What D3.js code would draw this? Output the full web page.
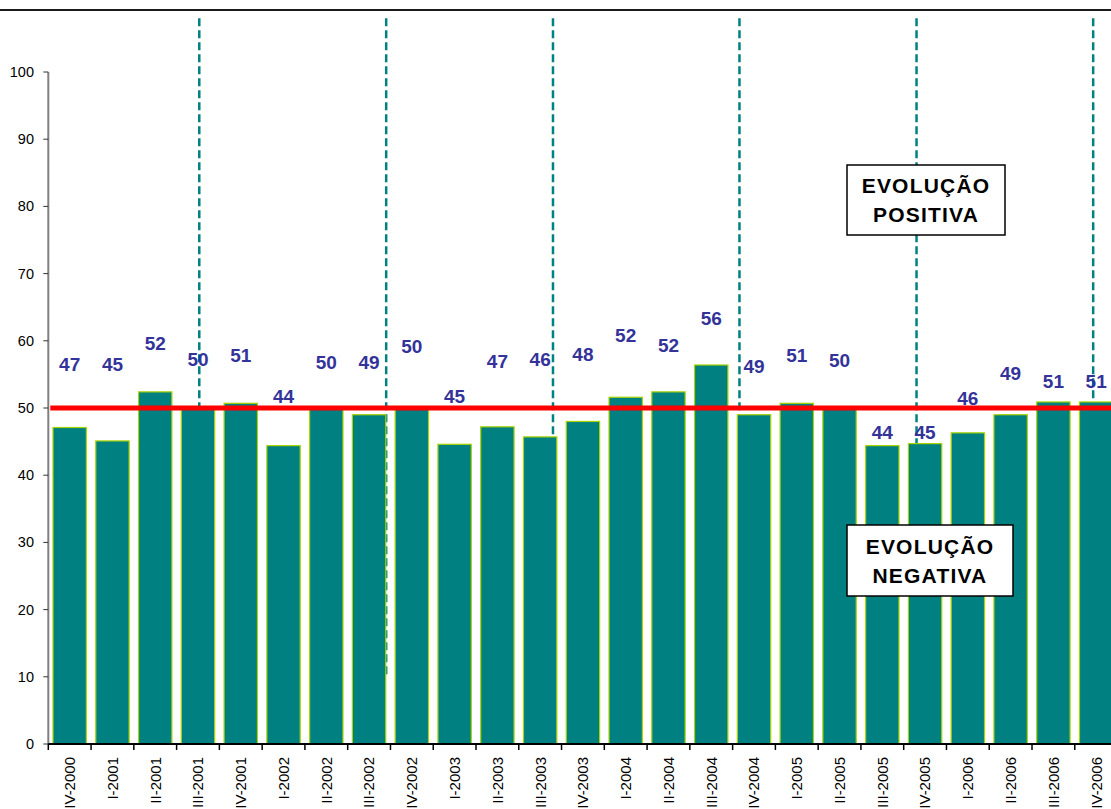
<!DOCTYPE html>
<html>
<head>
<meta charset="utf-8">
<script src="https://cdn.jsdelivr.net/npm/d3@7.9.0/dist/d3.min.js"></script>
<style>
  html, body { margin: 0; padding: 0; background: #fff; }
  svg { display: block; font-family: "Liberation Sans", Arial, sans-serif; }
</style>
</head>
<body>
<svg id="chart" width="1111" height="809"></svg>
<script>
// quarters shown on the x axis
const quarters = [
  'IV-2000', 'I-2001', 'II-2001', 'III-2001', 'IV-2001', 'I-2002', 'II-2002', 'III-2002',
  'IV-2002', 'I-2003', 'II-2003', 'III-2003', 'IV-2003', 'I-2004', 'II-2004', 'III-2004',
  'IV-2004', 'I-2005', 'II-2005', 'III-2005', 'IV-2005', 'I-2006', 'II-2006', 'III-2006', 'IV-2006'
];
// index values (bar heights)
const values = [
  47.1, 45.1, 52.4, 49.9, 50.7, 44.4, 50.1, 49.0,
  50.0, 44.6, 47.2, 45.7, 48.0, 51.6, 52.4, 56.4,
  49.0, 50.7, 50.0, 44.4, 44.7, 46.3, 49.0, 50.9, 50.9
];
// where each data label sits, in index units (labels were placed by hand)
const labelAt = [
  56.5, 56.5, 59.7, 57.3, 57.9, 51.8, 56.8, 56.8,
  59.2, 51.8, 56.9, 57.2, 58.0, 60.9, 59.4, 63.4,
  56.2, 57.9, 57.1, 46.4, 46.4, 51.5, 55.2, 54.0, 54.0
];
const yTicks = [0, 10, 20, 30, 40, 50, 60, 70, 80, 90, 100];
const threshold = 50;
// dashed separators, in category units from the left of the axis
const dividers = [3.53, 7.90, 11.80, 16.16, 20.30, 24.43];
const dividerSpan = [10, 108];

const svg = d3.select('#chart');

const step = 42.77;
const x0 = 48.3;
const x = d3.scaleBand()
  .domain(quarters)
  .range([x0, x0 + step * quarters.length])
  .paddingInner(0.22)
  .paddingOuter(0.11);
const xPos = d3.scaleLinear().domain([0, 1]).range([x0, x0 + x.step()]);
const y = d3.scaleLinear().domain([0, 100]).range([744, 72]);

// top border of the chart area
svg.append('line')
  .attr('x1', 0).attr('x2', 1111).attr('y1', 10).attr('y2', 10)
  .attr('stroke', '#1a1a1a').attr('stroke-width', 2);

// dashed separators (behind bars)
svg.append('g').selectAll('line')
  .data(dividers)
  .join('line')
  .attr('x1', d => xPos(d)).attr('x2', d => xPos(d))
  .attr('y1', y(dividerSpan[1])).attr('y2', y(dividerSpan[0]))
  .attr('stroke', '#008080')
  .attr('stroke-width', 2.5)
  .attr('stroke-dasharray', '8,4');

// bars
svg.append('g').selectAll('rect')
  .data(values)
  .join('rect')
  .attr('x', (d, i) => x(quarters[i]))
  .attr('width', x.bandwidth())
  .attr('y', d => y(d))
  .attr('height', d => y(0) - y(d))
  .attr('fill', '#008080')
  .attr('stroke', '#a8d400')
  .attr('stroke-width', 1.2);

// y axis
const yAxis = svg.append('g');
yAxis.append('line')
  .attr('x1', x0).attr('x2', x0).attr('y1', y(100)).attr('y2', y(0))
  .attr('stroke', '#808080').attr('stroke-width', 2);
yAxis.selectAll('line.tick')
  .data(yTicks)
  .join('line')
  .attr('class', 'tick')
  .attr('x1', x0 - 5).attr('x2', x0)
  .attr('y1', d => y(d)).attr('y2', d => y(d))
  .attr('stroke', '#333').attr('stroke-width', 1);
yAxis.selectAll('text')
  .data(yTicks)
  .join('text')
  .attr('x', 34)
  .attr('y', d => y(d))
  .attr('dy', '0.35em')
  .attr('text-anchor', 'end')
  .attr('font-size', 14.5)
  .attr('fill', '#000')
  .text(d => d);

// x axis
const xAxis = svg.append('g');
xAxis.append('line')
  .attr('x1', x0).attr('x2', 1111).attr('y1', y(0)).attr('y2', y(0))
  .attr('stroke', '#000').attr('stroke-width', 2);
xAxis.selectAll('line.tick')
  .data(d3.range(quarters.length + 1))
  .join('line')
  .attr('class', 'tick')
  .attr('x1', d => xPos(d)).attr('x2', d => xPos(d))
  .attr('y1', y(0)).attr('y2', y(0) + 6)
  .attr('stroke', '#000').attr('stroke-width', 1.5);
xAxis.selectAll('text')
  .data(quarters)
  .join('text')
  .attr('transform', d => `translate(${x(d) + x.bandwidth() / 2},757) rotate(-90)`)
  .attr('dy', '0.36em')
  .attr('text-anchor', 'end')
  .attr('font-size', 15)
  .attr('fill', '#000')
  .text(d => d);

// threshold line
svg.append('line')
  .attr('x1', x0 + 2).attr('x2', 1111)
  .attr('y1', y(threshold)).attr('y2', y(threshold))
  .attr('stroke', '#ff0000').attr('stroke-width', 5);

// data labels
svg.append('g').selectAll('text')
  .data(values)
  .join('text')
  .attr('x', (d, i) => x(quarters[i]) + x.bandwidth() / 2)
  .attr('y', (d, i) => y(labelAt[i]))
  .attr('dy', '0.36em')
  .attr('text-anchor', 'middle')
  .attr('font-size', 19)
  .attr('font-weight', 'bold')
  .attr('fill', '#333399')
  .text(d => Math.round(d));

// annotation boxes
function note(bx, by, bw, bh, lines) {
  const g = svg.append('g');
  g.append('rect')
    .attr('x', bx).attr('y', by).attr('width', bw).attr('height', bh)
    .attr('fill', '#fff').attr('stroke', '#000').attr('stroke-width', 1.5);
  g.selectAll('text')
    .data(lines)
    .join('text')
    .attr('x', bx + bw / 2)
    .attr('y', (d, i) => by + bh / 2 + (i - 0.5) * 29)
    .attr('dy', '0.36em')
    .attr('text-anchor', 'middle')
    .attr('font-size', 21)
    .attr('font-weight', 'bold')
    .attr('letter-spacing', 1.2)
    .attr('fill', '#000')
    .text(d => d);
}
note(847, 165, 158, 70, ['EVOLUÇÃO', 'POSITIVA']);
note(847, 525, 166, 71, ['EVOLUÇÃO', 'NEGATIVA']);
</script>
</body>
</html>
